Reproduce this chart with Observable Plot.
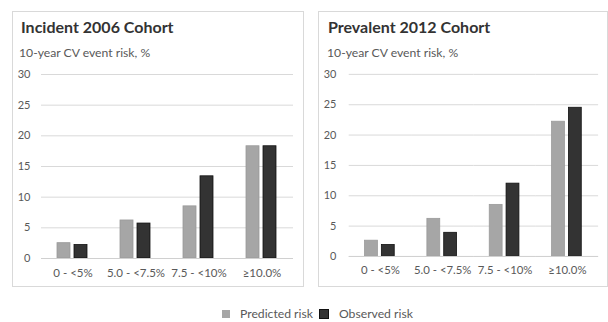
<!DOCTYPE html>
<html><head><meta charset="utf-8">
<script src="https://cdn.jsdelivr.net/npm/d3@7"></script>
<script src="https://cdn.jsdelivr.net/npm/@observablehq/plot@0.6"></script>
<style>
body{margin:0;background:#fff;font-family:Lato,"Open Sans",sans-serif;}
#root{position:relative;width:608px;height:322px;overflow:hidden;background:#fff}
.panel{position:absolute;border:1px solid #d9d9d9;box-sizing:border-box}
.title{position:absolute;font-weight:bold;font-size:16px;line-height:16px;color:#333;white-space:nowrap}
.sub{position:absolute;font-size:12.2px;line-height:12px;color:#595959;white-space:nowrap}
.chart{position:absolute}
.legend{position:absolute;left:222px;top:309px;display:flex;align-items:center;font-size:12.2px;line-height:10px;height:10px;color:#595959;white-space:nowrap}
.sw{display:inline-block;width:8px;height:8px;margin-right:10px}
g[aria-label^="fx-axis"] text{font-size:11.5px}
</style></head>
<body><div id="root">
<div class="panel" style="left:12px;top:11px;width:292px;height:276px"></div>
<div class="panel" style="left:318px;top:11px;width:290px;height:276px"></div>
<div class="title" style="left:21px;top:19px">Incident 2006 Cohort</div>
<div class="sub" style="left:19px;top:47px">10-year CV event risk, %</div>
<div class="title" style="left:328px;top:19px">Prevalent 2012 Cohort</div>
<div class="sub" style="left:327px;top:47px">10-year CV event risk, %</div>
<div class="chart" id="c1" style="left:12px;top:62px"></div>
<div class="chart" id="c2" style="left:320px;top:62px"></div>
<div class="legend"><span class="sw" style="background:#a6a6a6"></span><span style="margin-right:6px">Predicted risk</span><span class="sw" style="background:#333;border:0.5px solid #111"></span><span>Observed risk</span></div>
</div>
<script>
const categories = ["0 - <5%", "5.0 - <7.5%", "7.5 - <10%", "≥10.0%"];
const series = ["Predicted risk", "Observed risk"];
const incidentPredicted = [2.5, 6.2, 8.5, 18.3];
const incidentObserved = [2.2, 5.7, 13.4, 18.3];
const prevalentPredicted = [2.6, 6.2, 8.5, 22.2];
const prevalentObserved = [1.9, 3.9, 12.0, 24.5];
const yTicks = [0, 5, 10, 15, 20, 25, 30];
const seriesColors = ["#a6a6a6", "#333333"];
const seriesStrokes = ["#9a9a9a", "#111111"];

function makeChart(pred, obs, tickPad) {
  const data = [];
  categories.forEach((c, i) => {
    data.push({category: c, series: series[0], value: pred[i]});
    data.push({category: c, series: series[1], value: obs[i]});
  });
  return Plot.plot({
    width: 291, height: 222,
    marginTop: 12, marginBottom: 26, marginLeft: 28, marginRight: 9,
    style: {fontFamily: "Lato, 'Open Sans', sans-serif", fontSize: "11px", color: "#595959", background: "transparent"},
    fx: {domain: categories, padding: 0, label: null, axis: "bottom", tickSize: 0, tickPadding: 10},
    x: {domain: series, axis: null, paddingInner: 0.222, paddingOuter: 0.875},
    y: {domain: [0, 30], ticks: yTicks, label: null, tickSize: 0, tickPadding: tickPad},
    color: {domain: series, range: seriesColors},
    marks: [
      Plot.gridY(yTicks, {stroke: "#d9d9d9", strokeOpacity: 1}),
      Plot.barY(data, {fx: "category", x: "series", y: "value", fill: "series",
        stroke: d => d.series === series[0] ? seriesStrokes[0] : seriesStrokes[1], strokeWidth: 0.8}),
      Plot.ruleY([0], {stroke: "#d0d0d0"})
    ]
  });
}
document.getElementById("c1").appendChild(makeChart(incidentPredicted, incidentObserved, 11));
document.getElementById("c2").appendChild(makeChart(prevalentPredicted, prevalentObserved, 13));
</script>
</body></html>
